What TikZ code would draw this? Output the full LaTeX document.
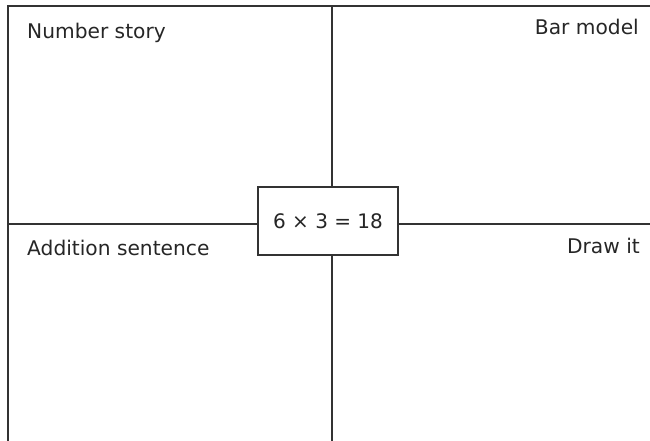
\documentclass[tikz,border=0pt]{standalone}
\usepackage{fontspec}
\setmainfont{DejaVu Sans}
\begin{document}
\begin{tikzpicture}[x=1pt,y=-1pt,
  rule/.style={draw=black!80,line width=1.3pt},
  lbl/.style={inner sep=0pt,font=\fontsize{20.2}{24}\selectfont,text=black!85},
  centrebox/.style={rule,fill=white,minimum width=140pt,minimum height=68pt,inner sep=0pt,font=\fontsize{20}{24}\selectfont,text=black!85}]
\useasboundingbox (0,0) rectangle (650,441);
\coordinate (tl) at (8,6);
\coordinate (tr) at (650,6);
\coordinate (bl) at (8,441);
\coordinate (ml) at (8,224);
\coordinate (mr) at (650,224);
\coordinate (mt) at (332,6);
\coordinate (mb) at (332,441);
\draw[rule] (bl) -- (tl) -- (tr);
\draw[rule] (ml) -- (mr);
\draw[rule] (mt) -- (mb);
\node[centrebox] (eq) at (328,221) {6 × 3 = 18};
\node[lbl,anchor=base west] (ns) at (27,39) {Number story};
\node[lbl,anchor=base east] (bm) at (639,35) {Bar model};
\node[lbl,anchor=base west] (as) at (27,255) {Addition sentence};
\node[lbl,anchor=base east] (dr) at (640,253) {Draw it};
\end{tikzpicture}
\end{document}
